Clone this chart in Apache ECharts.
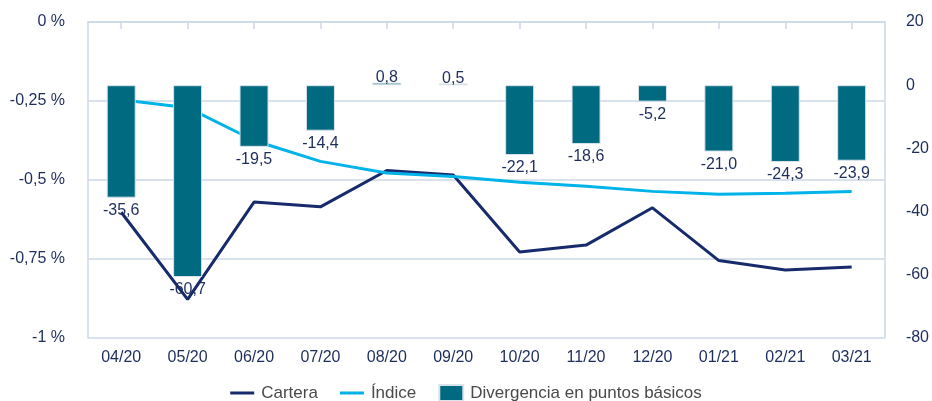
<!DOCTYPE html>
<html>
<head>
<meta charset="utf-8">
<script src="https://cdn.jsdelivr.net/npm/echarts@6/dist/echarts.min.js"></script>
<style>
html,body{margin:0;padding:0;background:#fff;}
#c{width:932px;height:401px;}
</style>
</head>
<body>
<div id="c"></div>
<script>
const categories = ['04/20','05/20','06/20','07/20','08/20','09/20','10/20','11/20','12/20','01/21','02/21','03/21'];
const cartera = [-0.602,-0.878,-0.570,-0.585,-0.470,-0.484,-0.728,-0.706,-0.588,-0.755,-0.785,-0.775];
const indice = [-0.246,-0.271,-0.375,-0.441,-0.478,-0.489,-0.507,-0.520,-0.536,-0.545,-0.542,-0.536];
const divergencia = [-35.6,-60.7,-19.5,-14.4,0.8,0.5,-22.1,-18.6,-5.2,-21.0,-24.3,-23.9];
const leftTicks = {min:-1, max:0, interval:0.25};
const rightTicks = {min:-80, max:20, interval:20};

const navyText = '#1d2d5c';
const gridColor = '#cdd9e6';
const font = 'Liberation Sans, Arial, sans-serif';
const lineIcon = 'path://M0,0h24v3h-24z';

const chart = echarts.init(document.getElementById('c'), null, {renderer:'canvas'});
chart.setOption({
  backgroundColor:'#ffffff',
  animation:false,
  grid:{left:88, right:45, top:22, bottom:63, containLabel:false},
  legend:{
    top:384, left:'center', padding:0,
    itemWidth:24, itemHeight:16, itemGap:22,
    symbolKeepAspect:true,
    textStyle:{fontFamily:font, fontSize:17, color:'#4a4a4a', padding:[0,0,0,2]},
    data:[
      {name:'Cartera', icon:lineIcon},
      {name:'Índice', icon:lineIcon},
      {name:'Divergencia en puntos básicos', icon:'rect'}
    ]
  },
  xAxis:{
    type:'category', data:categories, boundaryGap:true,
    axisLine:{show:true, lineStyle:{color:gridColor, width:1.5}},
    axisTick:{show:true, alignWithLabel:true, length:7, lineStyle:{color:gridColor, width:1.5}},
    axisLabel:{color:navyText, fontFamily:font, fontSize:16, margin:12},
    splitLine:{show:false}
  },
  yAxis:[
    {
      type:'value', position:'left', min:leftTicks.min, max:leftTicks.max, interval:leftTicks.interval,
      axisLine:{show:true, lineStyle:{color:gridColor, width:1.5}},
      axisTick:{show:false},
      axisLabel:{color:navyText, fontFamily:font, fontSize:16, margin:23,
        formatter:function(v){ return (v===0?'0':String(+v.toFixed(2)).replace('.',','))+' %'; }},
      splitLine:{show:true, lineStyle:{color:gridColor, width:1.5}}
    },
    {
      type:'value', position:'right', min:rightTicks.min, max:rightTicks.max, interval:rightTicks.interval,
      axisLine:{show:true, lineStyle:{color:gridColor, width:1.5}},
      axisTick:{show:false},
      axisLabel:{color:navyText, fontFamily:font, fontSize:16, margin:21, align:'left'},
      splitLine:{show:false}
    }
  ],
  series:[
    {
      name:'Cartera', type:'line', yAxisIndex:0, data:cartera,
      symbol:'none', showSymbol:false, z:2,
      lineStyle:{color:'#172a6b', width:3},
      itemStyle:{color:'#172a6b'}
    },
    {
      name:'Índice', type:'line', yAxisIndex:0, data:indice,
      symbol:'none', showSymbol:false, z:2,
      lineStyle:{color:'#00b3e8', width:3},
      itemStyle:{color:'#00b3e8'}
    },
    {
      name:'Divergencia en puntos básicos', type:'bar', yAxisIndex:1, z:3,
      barWidth:29,
      itemStyle:{color:'#006a80', borderColor:'#d9e3ec', borderWidth:1},
      data:divergencia.map(function(v){
        return {value:v, label:{position: v<0 ? 'bottom' : 'top', distance: v<0 ? 5 : -3}};
      }),
      label:{
        show:true, color:navyText, fontFamily:font, fontSize:16,
        formatter:function(p){ return p.value.toFixed(1).replace('.',','); }
      }
    }
  ]
});
</script>
</body>
</html>
